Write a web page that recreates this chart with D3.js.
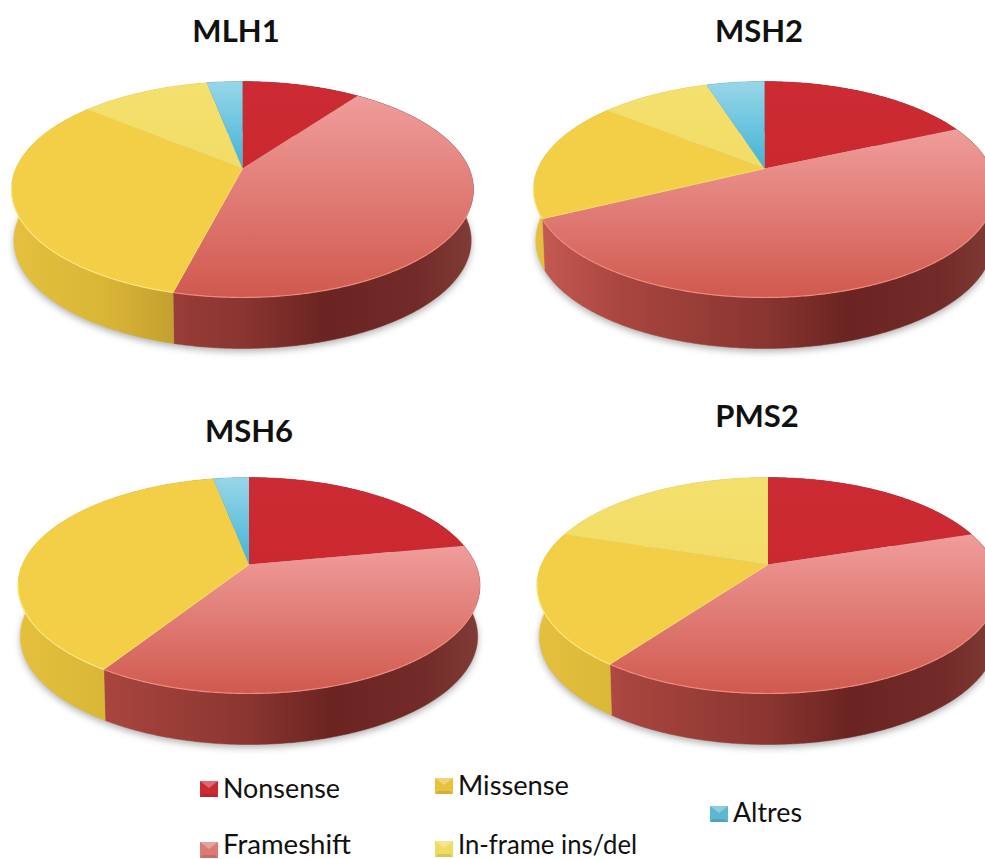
<!DOCTYPE html>
<html>
<head>
<meta charset="utf-8">
<script src="https://cdn.jsdelivr.net/npm/d3@7"></script>
<style>
  html, body { margin: 0; padding: 0; background: #fff; overflow: hidden; }
  svg { display: block; }
  text { font-family: Lato, "Open Sans", sans-serif; fill: #111; }
</style>
</head>
<body>
<svg id="chart" width="985" height="859"></svg>
<script>
// Share of each mutation type per gene (percent)
const categories = ["Nonsense", "Frameshift", "Missense", "In-frame ins/del", "Altres"];
const genes = ["MLH1", "MSH2", "MSH6", "PMS2"];
const valuesMLH1 = [10, 44, 32, 11, 3];
const valuesMSH2 = [18.3, 49.4, 18.1, 9.3, 4.9];
const valuesMSH6 = [22, 37, 38, 0, 3];
const valuesPMS2 = [20, 40, 20, 20, 0];
const geneValues = [valuesMLH1, valuesMSH2, valuesMSH6, valuesPMS2];

// Pie placement: apex of the tilted disc and the title anchor
const pieCx = [242.5, 764.5, 249, 768];
const pieCy = [168.5, 168.5, 564.5, 564.5];
const titleX = [236, 759, 249, 757];
const titleY = [42, 42, 442, 427];

// Legend placement, one entry per category
const legendX = [200, 200, 435, 435, 710];
const legendY = [781, 842, 778, 841, 806];
const legendBaseline = [798, 854, 795, 854, 822];
const legendWidth = [117, 128, 111, 179, 69];

const topStops = [
  ["#cd2b33", "#cb2830"],
  ["#f09d9b", "#d0594e"],
  ["#f3cf48", "#f3ce46"],
  ["#f4e06e", "#f2dc66"],
  ["#98d6e8", "#41b3d6"]
];
const wallStops = [
  [[0, "#8a2a2a"], [1, "#6b2020"]],
  [[0, "#c65c54"], [0.19, "#a9453f"], [0.5, "#8a3530"], [0.68, "#6b2422"], [0.88, "#722b28"], [1, "#813c38"]],
  [[0, "#e4c03e"], [0.2, "#dab637"], [0.35, "#c5a030"], [1, "#a8882a"]],
  [[0, "#e4cf58"], [1, "#b8a63e"]],
  [[0, "#4aa8c4"], [1, "#2f8aa6"]]
];
const rimColors = ["#e0484c", "#ef8a80", "#fbe680", "#fbec96", "#9fdcec"];
const swatchColors = ["#cc2a33", "#dc7a74", "#e8c23e", "#efdc62", "#5bb7d2"];

const RX = 231, PERSPECTIVE = 0.1945, MINOR = 103.9, DEPTH = 51, BASE_SCALE = 0.99;
const majorAxis = RX * Math.sqrt(1 - PERSPECTIVE * PERSPECTIVE);

const svg = d3.select("#chart");
const defs = svg.append("defs");
const color = d3.scaleOrdinal().domain(categories).range(d3.range(categories.length));

defs.append("filter").attr("id", "soft-shadow")
  .attr("x", "-10%").attr("y", "-10%").attr("width", "120%").attr("height", "130%")
  .append("feGaussianBlur").attr("stdDeviation", 3.5);

topStops.forEach((pair, i) => {
  const g = defs.append("linearGradient").attr("id", `top-${i}`)
    .attr("x1", 0).attr("y1", 0).attr("x2", 0).attr("y2", 1);
  g.append("stop").attr("offset", 0).attr("stop-color", pair[0]);
  g.append("stop").attr("offset", 1).attr("stop-color", pair[1]);
});

// Map a pie angle (clockwise from twelve o'clock) onto the tilted disc
function project(angle) {
  const u = Math.sin(angle), v = -Math.cos(angle), w = 1 - PERSPECTIVE * v;
  return [majorAxis * u / w, MINOR * v / w];
}
const base = ([x, y]) => [x * BASE_SCALE, y + DEPTH];
const arcSamples = (a0, a1) => {
  const n = Math.max(2, Math.ceil((a1 - a0) / 0.01));
  return d3.range(n + 1).map(i => a0 + (a1 - a0) * i / n);
};
const line = d3.line();
const pie = d3.pie().sort(null);

genes.forEach((gene, gi) => {
  const cx = pieCx[gi], cy = pieCy[gi];
  const group = svg.append("g").attr("transform", `translate(${cx},${cy})`);
  const slices = pie(geneValues[gi]);

  // Side walls share one horizontal gradient across the width of the disc
  wallStops.forEach((stops, i) => {
    const g = defs.append("linearGradient").attr("id", `wall-${gi}-${i}`)
      .attr("gradientUnits", "userSpaceOnUse")
      .attr("x1", -RX).attr("y1", 0).attr("x2", RX).attr("y2", 0);
    stops.forEach(s => g.append("stop").attr("offset", s[0]).attr("stop-color", s[1]));
  });

  // Soft shadow under the disc
  const outline = arcSamples(0, 2 * Math.PI).map(a => base(project(a)));
  group.append("path")
    .attr("d", line(outline) + "Z")
    .attr("transform", "translate(0,3)")
    .attr("fill", "#6f6f6f")
    .attr("opacity", 0.55)
    .attr("filter", "url(#soft-shadow)");

  group.selectAll(".wall").data(slices.filter(d => d.value > 0)).join("path")
    .attr("class", "wall")
    .attr("d", d => {
      const rim = arcSamples(d.startAngle, d.endAngle).map(project);
      return line(rim.concat(rim.map(base).reverse())) + "Z";
    })
    .attr("fill", d => `url(#wall-${gi}-${d.index})`)
    .attr("stroke", d => `url(#wall-${gi}-${d.index})`)
    .attr("stroke-width", 0.5);

  group.selectAll(".face").data(slices.filter(d => d.value > 0)).join("path")
    .attr("class", "face")
    .attr("d", d => line([[0, 0]].concat(arcSamples(d.startAngle, d.endAngle).map(project))) + "Z")
    .attr("fill", d => `url(#top-${d.index})`);

  // Thin highlight along the front rim of the disc
  group.selectAll(".rim").data(slices.filter(d => d.value > 0)).join("path")
    .attr("class", "rim")
    .attr("d", d => {
      const a0 = Math.max(d.startAngle, Math.PI * 0.62);
      const a1 = Math.min(d.endAngle, Math.PI * 1.45);
      return a1 > a0 ? line(arcSamples(a0, a1).map(project)) : null;
    })
    .attr("fill", "none")
    .attr("stroke", d => rimColors[d.index])
    .attr("stroke-width", 1.2);

  // Light edge where the missense slice meets the frameshift slice
  const seam = slices[2];
  group.append("path")
    .attr("d", line([[0, 0], project(seam.startAngle)]))
    .attr("stroke", "#f6dc6a")
    .attr("stroke-width", 1)
    .attr("fill", "none");

  svg.append("text")
    .attr("x", titleX[gi]).attr("y", titleY[gi])
    .attr("text-anchor", "middle")
    .attr("font-size", 31).attr("font-weight", 700)
    .text(gene);
});

// Legend: small bevelled swatches followed by the category name
const legend = svg.selectAll(".legend-item").data(categories).join("g")
  .attr("class", "legend-item");
const SW = 18, SH = 16;
const swatch = legend.append("g")
  .attr("transform", (d, i) => `translate(${legendX[i]},${legendY[i]})`);
swatch.append("rect").attr("width", SW).attr("height", SH)
  .attr("fill", d => swatchColors[color(d)]);
swatch.append("path")
  .attr("d", line([[0, 0], [SW, 0], [SW / 2, 7]]) + "Z")
  .attr("fill", "#fff").attr("opacity", 0.3);
swatch.append("path")
  .attr("d", line([[0, SH], [SW, SH], [SW - 3, SH - 3], [3, SH - 3]]) + "Z")
  .attr("fill", "#000").attr("opacity", 0.1);
legend.append("text")
  .attr("x", (d, i) => legendX[i] + 23)
  .attr("y", (d, i) => legendBaseline[i])
  .attr("font-size", 27)
  .attr("textLength", (d, i) => legendWidth[i])
  .attr("lengthAdjust", "spacingAndGlyphs")
  .text(d => d);
</script>
</body>
</html>
